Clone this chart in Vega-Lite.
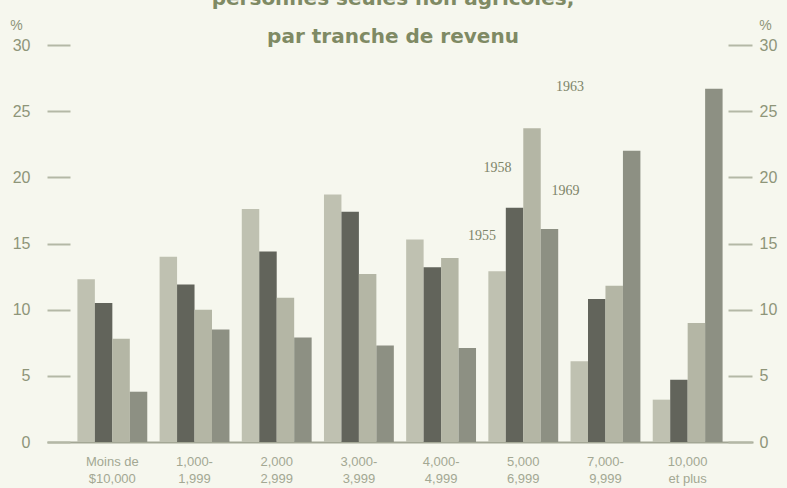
{
  "$schema": "https://vega.github.io/schema/vega-lite/v6.json",
  "width": 706,
  "height": 397,
  "autosize": {"type": "none"},
  "padding": {"left": 47, "top": 45, "right": 34, "bottom": 46},
  "background": "#f6f7ee",
  "title": {
    "text": ["personnes seules non agricoles,", "par tranche de revenu"],
    "anchor": "middle",
    "frame": "group",
    "dx": -7,
    "offset": -29,
    "font": "DejaVu Sans",
    "fontSize": 20,
    "fontWeight": "bold",
    "color": "#7f8a64",
    "lineHeight": 38
  },
  "config": {
    "view": {"stroke": null},
    "axis": {"grid": false}
  },
  "datasets": {
    "bars": [
      {"grp": "Moins de|$10,000", "year": "1955", "pct": 12.3},
      {"grp": "Moins de|$10,000", "year": "1958", "pct": 10.5},
      {"grp": "Moins de|$10,000", "year": "1963", "pct": 7.8},
      {"grp": "Moins de|$10,000", "year": "1969", "pct": 3.8},
      {"grp": "1,000-|1,999", "year": "1955", "pct": 14.0},
      {"grp": "1,000-|1,999", "year": "1958", "pct": 11.9},
      {"grp": "1,000-|1,999", "year": "1963", "pct": 10.0},
      {"grp": "1,000-|1,999", "year": "1969", "pct": 8.5},
      {"grp": "2,000|2,999", "year": "1955", "pct": 17.6},
      {"grp": "2,000|2,999", "year": "1958", "pct": 14.4},
      {"grp": "2,000|2,999", "year": "1963", "pct": 10.9},
      {"grp": "2,000|2,999", "year": "1969", "pct": 7.9},
      {"grp": "3,000-|3,999", "year": "1955", "pct": 18.7},
      {"grp": "3,000-|3,999", "year": "1958", "pct": 17.4},
      {"grp": "3,000-|3,999", "year": "1963", "pct": 12.7},
      {"grp": "3,000-|3,999", "year": "1969", "pct": 7.3},
      {"grp": "4,000-|4,999", "year": "1955", "pct": 15.3},
      {"grp": "4,000-|4,999", "year": "1958", "pct": 13.2},
      {"grp": "4,000-|4,999", "year": "1963", "pct": 13.9},
      {"grp": "4,000-|4,999", "year": "1969", "pct": 7.1},
      {"grp": "5,000|6,999", "year": "1955", "pct": 12.9},
      {"grp": "5,000|6,999", "year": "1958", "pct": 17.7},
      {"grp": "5,000|6,999", "year": "1963", "pct": 23.7},
      {"grp": "5,000|6,999", "year": "1969", "pct": 16.1},
      {"grp": "7,000-|9,999", "year": "1955", "pct": 6.1},
      {"grp": "7,000-|9,999", "year": "1958", "pct": 10.8},
      {"grp": "7,000-|9,999", "year": "1963", "pct": 11.8},
      {"grp": "7,000-|9,999", "year": "1969", "pct": 22.0},
      {"grp": "10,000|et plus", "year": "1955", "pct": 3.2},
      {"grp": "10,000|et plus", "year": "1958", "pct": 4.7},
      {"grp": "10,000|et plus", "year": "1963", "pct": 9.0},
      {"grp": "10,000|et plus", "year": "1969", "pct": 26.7}
    ]
  },
  "layer": [
    {
      "data": {"name": "bars"},
      "mark": {"type": "bar"},
      "encoding": {
        "x": {
          "field": "grp", "type": "nominal", "sort": null,
          "scale": {"paddingInner": 0.15, "paddingOuter": 0.37},
          "axis": {
            "title": null,
            "labelAngle": 0,
            "labelExpr": "split(datum.label, '|')",
            "labelFont": "Liberation Sans",
            "labelFontSize": 13,
            "labelColor": "#a3a893",
            "labelLineHeight": 17,
            "labelPadding": 13,
            "ticks": false,
            "domainColor": "#a3a795",
            "domainWidth": 2
          }
        },
        "xOffset": {"field": "year", "type": "nominal", "sort": ["1955", "1958", "1963", "1969"]},
        "y": {
          "field": "pct", "type": "quantitative",
          "scale": {"domain": [0, 30]},
          "axis": {
            "orient": "left",
            "values": [0, 5, 10, 15, 20, 25, 30],
            "domain": false,
            "offset": -23,
            "tickSize": 23,
            "tickColor": "#b4b8a6",
            "tickWidth": 2,
            "labelFont": "Liberation Sans",
            "labelFontSize": 16,
            "labelColor": "#8e9579",
            "labelPadding": 17,
            "title": "%",
            "titleAngle": 0,
            "titleX": -54,
            "titleY": -20,
            "titleAlign": "center",
            "titleBaseline": "middle",
            "titleFont": "Liberation Sans",
            "titleFontSize": 14,
            "titleFontWeight": "normal",
            "titleColor": "#8e9579"
          }
        },
        "color": {
          "field": "year", "type": "nominal", "legend": null,
          "scale": {"domain": ["1955", "1958", "1963", "1969"], "range": ["#bfc1b1", "#62645b", "#b4b6a5", "#8d9083"]}
        }
      }
    },
    {
      "data": {"name": "bars"},
      "mark": {"type": "bar", "opacity": 0},
      "encoding": {
        "x": {"field": "grp", "type": "nominal", "sort": null},
        "xOffset": {"field": "year", "type": "nominal", "sort": ["1955", "1958", "1963", "1969"]},
        "y": {
          "field": "pct", "type": "quantitative",
          "axis": {
            "orient": "right",
            "values": [0, 5, 10, 15, 20, 25, 30],
            "domain": false,
            "offset": -25,
            "tickSize": 24,
            "tickColor": "#b4b8a6",
            "tickWidth": 2,
            "labelFont": "Liberation Sans",
            "labelFontSize": 16,
            "labelColor": "#8e9579",
            "labelPadding": 7,
            "title": "%",
            "titleAngle": 0,
            "titleX": 37,
            "titleY": -20,
            "titleAlign": "center",
            "titleBaseline": "middle",
            "titleFont": "Liberation Sans",
            "titleFontSize": 14,
            "titleFontWeight": "normal",
            "titleColor": "#8e9579"
          }
        }
      }
    },
    {
      "data": {"values": [{"grp": "5,000|6,999", "year": "1955", "pos": 15.6, "label": "1955"}]},
      "mark": {"type": "text", "dx": -15, "font": "Liberation Serif", "fontSize": 14, "color": "#7d8468", "baseline": "middle"},
      "encoding": {
        "x": {"field": "grp", "type": "nominal", "sort": null},
        "xOffset": {"field": "year", "type": "nominal"},
        "y": {"field": "pos", "type": "quantitative", "axis": null},
        "text": {"field": "label"}
      }
    },
    {
      "data": {"values": [{"grp": "5,000|6,999", "year": "1958", "pos": 20.7, "label": "1958"}]},
      "mark": {"type": "text", "dx": -17, "font": "Liberation Serif", "fontSize": 14, "color": "#7d8468", "baseline": "middle"},
      "encoding": {
        "x": {"field": "grp", "type": "nominal", "sort": null},
        "xOffset": {"field": "year", "type": "nominal"},
        "y": {"field": "pos", "type": "quantitative", "axis": null},
        "text": {"field": "label"}
      }
    },
    {
      "data": {"values": [{"grp": "5,000|6,999", "year": "1963", "pos": 26.8, "label": "1963"}]},
      "mark": {"type": "text", "dx": 38, "font": "Liberation Serif", "fontSize": 14, "color": "#7d8468", "baseline": "middle"},
      "encoding": {
        "x": {"field": "grp", "type": "nominal", "sort": null},
        "xOffset": {"field": "year", "type": "nominal"},
        "y": {"field": "pos", "type": "quantitative", "axis": null},
        "text": {"field": "label"}
      }
    },
    {
      "data": {"values": [{"grp": "5,000|6,999", "year": "1969", "pos": 19.0, "label": "1969"}]},
      "mark": {"type": "text", "dx": 16, "font": "Liberation Serif", "fontSize": 14, "color": "#7d8468", "baseline": "middle"},
      "encoding": {
        "x": {"field": "grp", "type": "nominal", "sort": null},
        "xOffset": {"field": "year", "type": "nominal"},
        "y": {"field": "pos", "type": "quantitative", "axis": null},
        "text": {"field": "label"}
      }
    }
  ],
  "resolve": {"scale": {"y": "shared"}, "axis": {"y": "independent"}}
}
